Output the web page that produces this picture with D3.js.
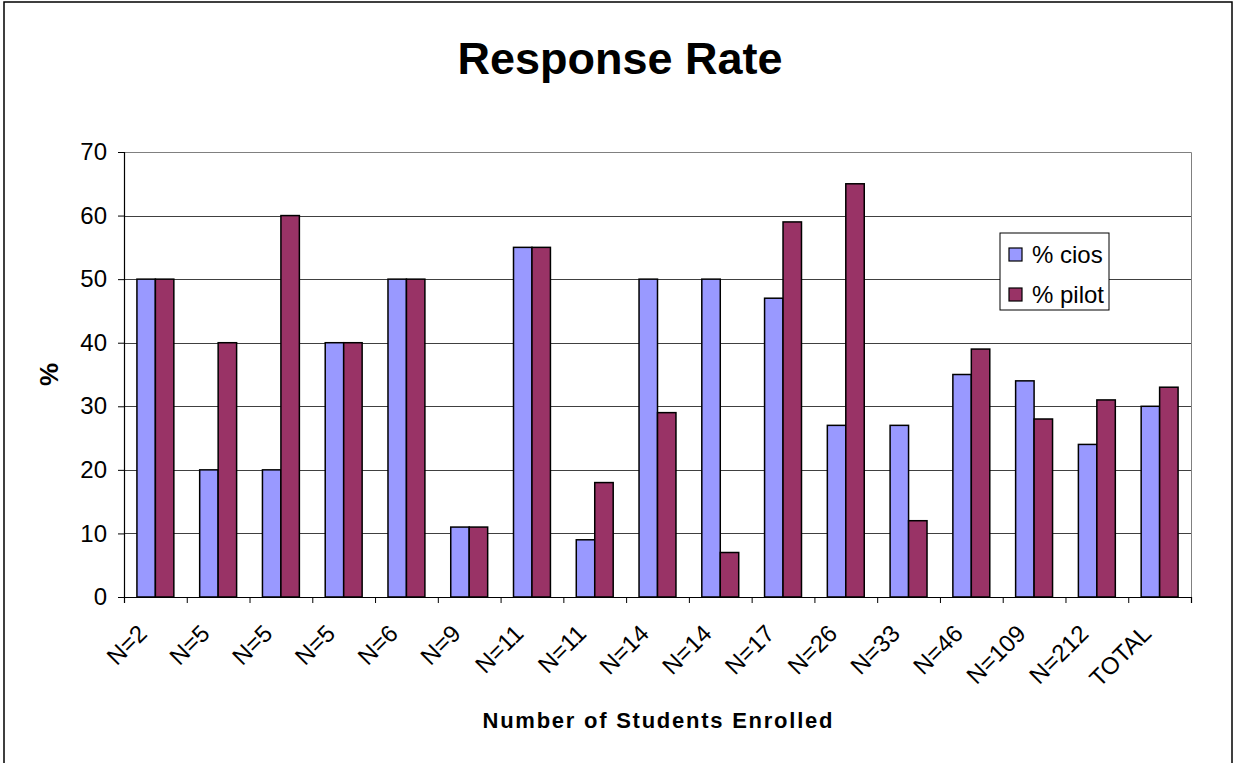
<!DOCTYPE html>
<html>
<head>
<meta charset="utf-8">
<script src="https://cdn.jsdelivr.net/npm/d3@7"></script>
<style>
  body { margin: 0; background: #fff; }
  svg { display: block; font-family: "Liberation Sans", Arial, sans-serif; }
</style>
</head>
<body>
<div id="chart"></div>
<script>
const categories = ["N=2", "N=5", "N=5", "N=5", "N=6", "N=9", "N=11", "N=11", "N=14",
  "N=14", "N=17", "N=26", "N=33", "N=46", "N=109", "N=212", "TOTAL"];
const cios = [50, 20, 20, 40, 50, 11, 55, 9, 50, 50, 47, 27, 27, 35, 34, 24, 30];
const pilot = [50, 40, 60, 40, 50, 11, 55, 18, 29, 7, 59, 65, 12, 39, 28, 31, 33];
const seriesNames = ["% cios", "% pilot"];
const seriesColors = ["#9999ff", "#993366"];
const yTicks = [0, 10, 20, 30, 40, 50, 60, 70];

const W = 1233, H = 763;
const plot = {left: 124, right: 1191, top: 152, bottom: 597};

const svg = d3.select("#chart").append("svg")
  .attr("width", W)
  .attr("height", H);

// outer chart border
svg.append("rect")
  .attr("x", 4).attr("y", 2)
  .attr("width", 1228).attr("height", H + 10)
  .attr("fill", "#fff")
  .attr("stroke", "#000")
  .attr("stroke-width", 1.5);

const idx = d3.range(categories.length);

const xb = d3.scaleBand()
  .domain(idx)
  .range([plot.left, plot.right]);

const x1 = d3.scaleBand()
  .domain([0, 1])
  .range([0, xb.bandwidth()])
  .paddingOuter(0.7);

const y = d3.scaleLinear()
  .domain([0, 70])
  .range([plot.bottom, plot.top]);

// gridlines
svg.append("g")
  .selectAll("line")
  .data(yTicks.filter(d => d > 0 && d < 70))
  .enter()
  .append("line")
  .attr("x1", plot.left).attr("x2", plot.right)
  .attr("y1", d => Math.round(y(d)) + 0.5)
  .attr("y2", d => Math.round(y(d)) + 0.5)
  .attr("stroke", "#404040")
  .attr("stroke-width", 1);

// plot border (top / right)
svg.append("path")
  .attr("d", `M${plot.left},${plot.top + 0.5}H${plot.right + 0.5}V${plot.bottom}`)
  .attr("fill", "none")
  .attr("stroke", "#808080")
  .attr("stroke-width", 1);

// bars
const rows = idx.map(i => [cios[i], pilot[i]]);
const groups = svg.append("g")
  .selectAll("g")
  .data(rows)
  .enter()
  .append("g")
  .attr("transform", (d, i) => `translate(${xb(i)},0)`);

groups.selectAll("rect")
  .data(d => d.map((v, s) => ({v, s})))
  .enter()
  .append("rect")
  .attr("x", d => x1(d.s))
  .attr("y", d => y(d.v))
  .attr("width", x1.bandwidth())
  .attr("height", d => y(0) - y(d.v))
  .attr("fill", d => seriesColors[d.s])
  .attr("stroke", "#000")
  .attr("stroke-width", 1.5);

// y axis
const yAxis = svg.append("g")
  .attr("transform", `translate(${plot.left},0)`)
  .call(d3.axisLeft(y).tickValues(yTicks).tickSize(6).tickPadding(11));
yAxis.select(".domain").attr("stroke", "#000").attr("stroke-width", 1.2);
yAxis.selectAll("text")
  .attr("font-size", 24)
  .attr("font-family", "Liberation Sans, Arial, sans-serif")
  .attr("fill", "#000");

// x axis (ticks at category boundaries)
const xt = d3.scaleLinear().domain([0, categories.length]).range([plot.left, plot.right]);
const xAxis = svg.append("g")
  .attr("transform", `translate(0,${plot.bottom})`)
  .call(d3.axisBottom(xt).tickValues(d3.range(categories.length + 1)).tickSize(6).tickFormat(""));
xAxis.select(".domain").attr("stroke", "#000").attr("stroke-width", 1.2);

svg.append("g")
  .selectAll("text")
  .data(idx)
  .enter()
  .append("text")
  .attr("transform", i => `translate(${xb(i) + xb.bandwidth() / 2 - 7},${plot.bottom + 38}) rotate(-45)`)
  .attr("text-anchor", "end")
  .attr("font-size", 24)
  .attr("fill", "#000")
  .text(i => categories[i]);

// titles
svg.append("text")
  .attr("x", 620).attr("y", 74)
  .attr("text-anchor", "middle")
  .attr("font-size", 45)
  .attr("font-weight", "bold")
  .text("Response Rate");

svg.append("text")
  .attr("x", (plot.left + plot.right) / 2).attr("y", 728)
  .attr("text-anchor", "middle")
  .attr("font-size", 22)
  .attr("font-weight", "bold")
  .attr("textLength", 350)
  .attr("lengthAdjust", "spacing")
  .text("Number of Students Enrolled");

svg.append("text")
  .attr("transform", `translate(58,${(plot.top + plot.bottom) / 2}) rotate(-90)`)
  .attr("text-anchor", "middle")
  .attr("font-size", 26)
  .attr("font-weight", "bold")
  .text("%");

// legend
const legend = svg.append("g").attr("transform", "translate(1000,233)");
legend.append("rect")
  .attr("width", 109).attr("height", 77)
  .attr("fill", "#fff")
  .attr("stroke", "#000")
  .attr("stroke-width", 1);

const items = legend.selectAll("g.item")
  .data(seriesNames)
  .enter()
  .append("g")
  .attr("class", "item")
  .attr("transform", (d, i) => `translate(0,${15 + i * 40})`);

items.append("rect")
  .attr("x", 9).attr("y", 0)
  .attr("width", 13).attr("height", 13)
  .attr("fill", (d, i) => seriesColors[i])
  .attr("stroke", "#000")
  .attr("stroke-width", 1.2);

items.append("text")
  .attr("x", 32).attr("y", 15)
  .attr("font-size", 24)
  .attr("fill", "#000")
  .text(d => d);
</script>
</body>
</html>
